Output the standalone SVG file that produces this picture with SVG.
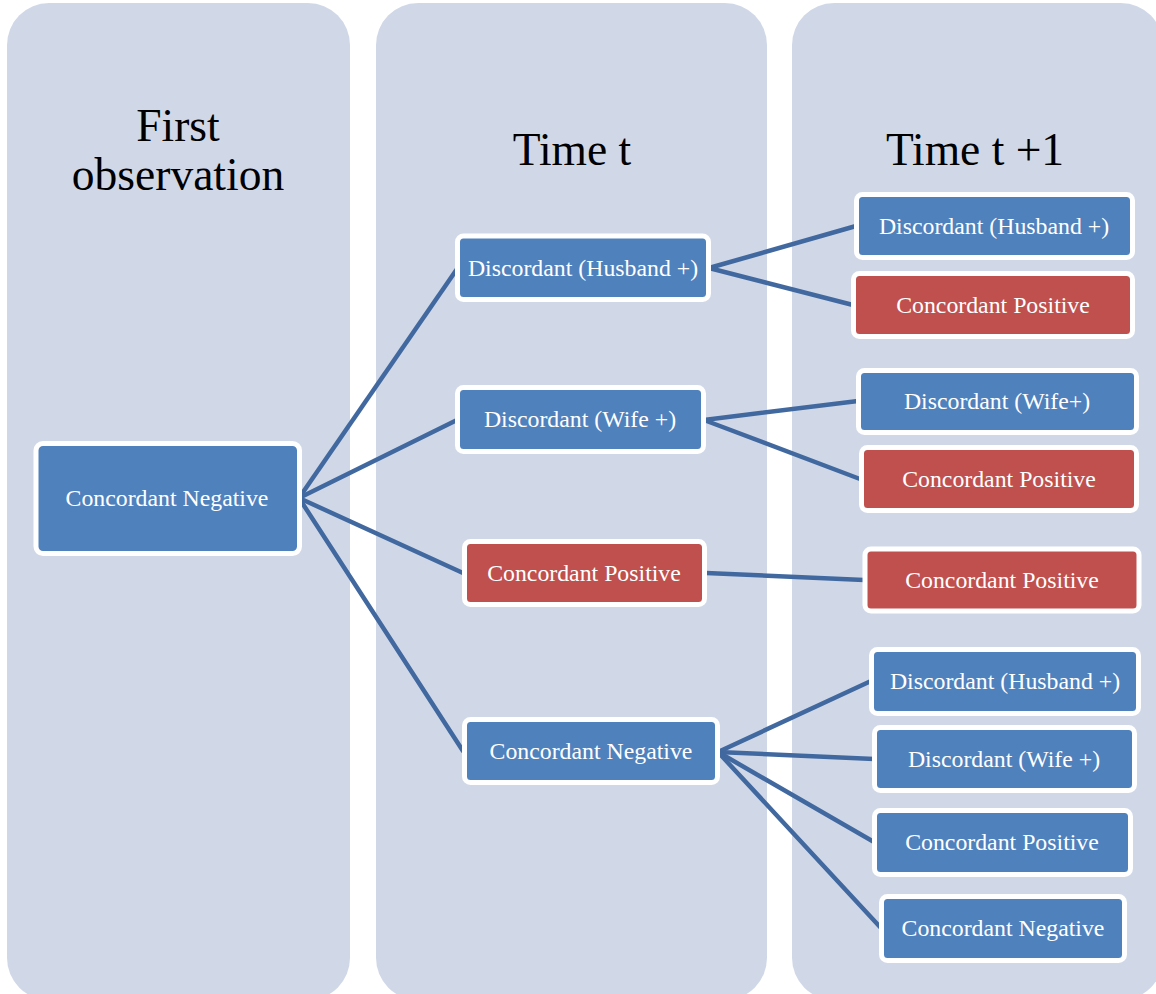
<svg xmlns="http://www.w3.org/2000/svg" width="1156" height="994" viewBox="0 0 1156 994">
<style>
.col{fill:#D0D8E8;}
.title{font-family:"Liberation Serif","Times New Roman",serif;font-size:45.5px;fill:#000;text-anchor:middle;}
.blue{fill:#4F81BD;stroke:#fff;stroke-width:5;}
.red{fill:#C0504D;stroke:#fff;stroke-width:5;}
.lbl{font-family:"Liberation Serif","Times New Roman",serif;font-size:23.8px;fill:#fff;text-anchor:middle;}
.conn line{stroke:#4169A0;stroke-width:4.5;stroke-linecap:round;}
</style>
<rect width="1156" height="994" fill="#fff"/>
<g id="columns">
<rect class="col" x="7" y="3" width="343" height="997" rx="42" ry="42"/>
<rect class="col" x="376" y="3" width="391" height="997" rx="42" ry="42"/>
<rect class="col" x="792" y="3" width="371" height="997" rx="42" ry="42"/>
</g>
<g id="titles">
<text class="title" x="178" y="141">First</text>
<text class="title" x="178" y="190">observation</text>
<text class="title" x="572" y="165">Time t</text>
<text class="title" x="975" y="165">Time t +1</text>
</g>
<g class="conn" id="connectors">
<line x1="299" y1="498" x2="457" y2="269"/>
<line x1="299" y1="498" x2="457" y2="420"/>
<line x1="299" y1="498" x2="463" y2="573"/>
<line x1="299" y1="498" x2="463" y2="751"/>
<line x1="709" y1="268" x2="856" y2="226"/>
<line x1="709" y1="268" x2="853" y2="305"/>
<line x1="704" y1="420" x2="858" y2="401"/>
<line x1="704" y1="420" x2="860" y2="479"/>
<line x1="706" y1="573" x2="864" y2="580"/>
<line x1="718" y1="752" x2="871" y2="681"/>
<line x1="718" y1="752" x2="874" y2="759"/>
<line x1="718" y1="752" x2="874" y2="842"/>
<line x1="718" y1="752" x2="881" y2="928"/>
</g>
<g id="n-first">
<rect class="blue" x="36" y="443.5" width="263.5" height="110" rx="7"/>
<text class="lbl" x="167" y="506">Concordant Negative</text>
</g>
<g id="n-t-husband">
<rect class="blue" x="457.5" y="236" width="251" height="63.5" rx="6"/>
<text class="lbl" x="583" y="275.5">Discordant (Husband +)</text>
</g>
<g id="n-t-wife">
<rect class="blue" x="457.5" y="387.5" width="246" height="64" rx="6"/>
<text class="lbl" x="580" y="427">Discordant (Wife +)</text>
</g>
<g id="n-t-pos">
<rect class="red" x="464.5" y="541.5" width="240" height="63" rx="6"/>
<text class="lbl" x="584" y="581">Concordant Positive</text>
</g>
<g id="n-t-neg">
<rect class="blue" x="464.5" y="719.5" width="253" height="63" rx="6"/>
<text class="lbl" x="591" y="759">Concordant Negative</text>
</g>
<g id="n-t1-husband">
<rect class="blue" x="856.5" y="194.5" width="276" height="63" rx="6"/>
<text class="lbl" x="994" y="233.5">Discordant (Husband +)</text>
</g>
<g id="n-t1-pos1">
<rect class="red" x="853.5" y="273.5" width="279" height="63" rx="6"/>
<text class="lbl" x="993" y="312.5">Concordant Positive</text>
</g>
<g id="n-t1-wife">
<rect class="blue" x="858.5" y="370.5" width="278" height="62" rx="6"/>
<text class="lbl" x="997" y="409">Discordant (Wife+)</text>
</g>
<g id="n-t1-pos2">
<rect class="red" x="861.5" y="447.5" width="275" height="63" rx="6"/>
<text class="lbl" x="999" y="486.5">Concordant Positive</text>
</g>
<g id="n-t1-pos3">
<rect class="red" x="865" y="549" width="274" height="62" rx="6"/>
<text class="lbl" x="1002" y="588">Concordant Positive</text>
</g>
<g id="n-t1-husband2">
<rect class="blue" x="871.5" y="649.5" width="267" height="64" rx="6"/>
<text class="lbl" x="1005" y="689">Discordant (Husband +)</text>
</g>
<g id="n-t1-wife2">
<rect class="blue" x="874.5" y="727.5" width="260" height="63" rx="6"/>
<text class="lbl" x="1004" y="766.5">Discordant (Wife +)</text>
</g>
<g id="n-t1-pos4">
<rect class="blue" x="874.5" y="810.5" width="256" height="64" rx="6"/>
<text class="lbl" x="1002" y="849.5">Concordant Positive</text>
</g>
<g id="n-t1-neg">
<rect class="blue" x="881.5" y="896.5" width="243" height="64" rx="6"/>
<text class="lbl" x="1003" y="936">Concordant Negative</text>
</g>
</svg>
